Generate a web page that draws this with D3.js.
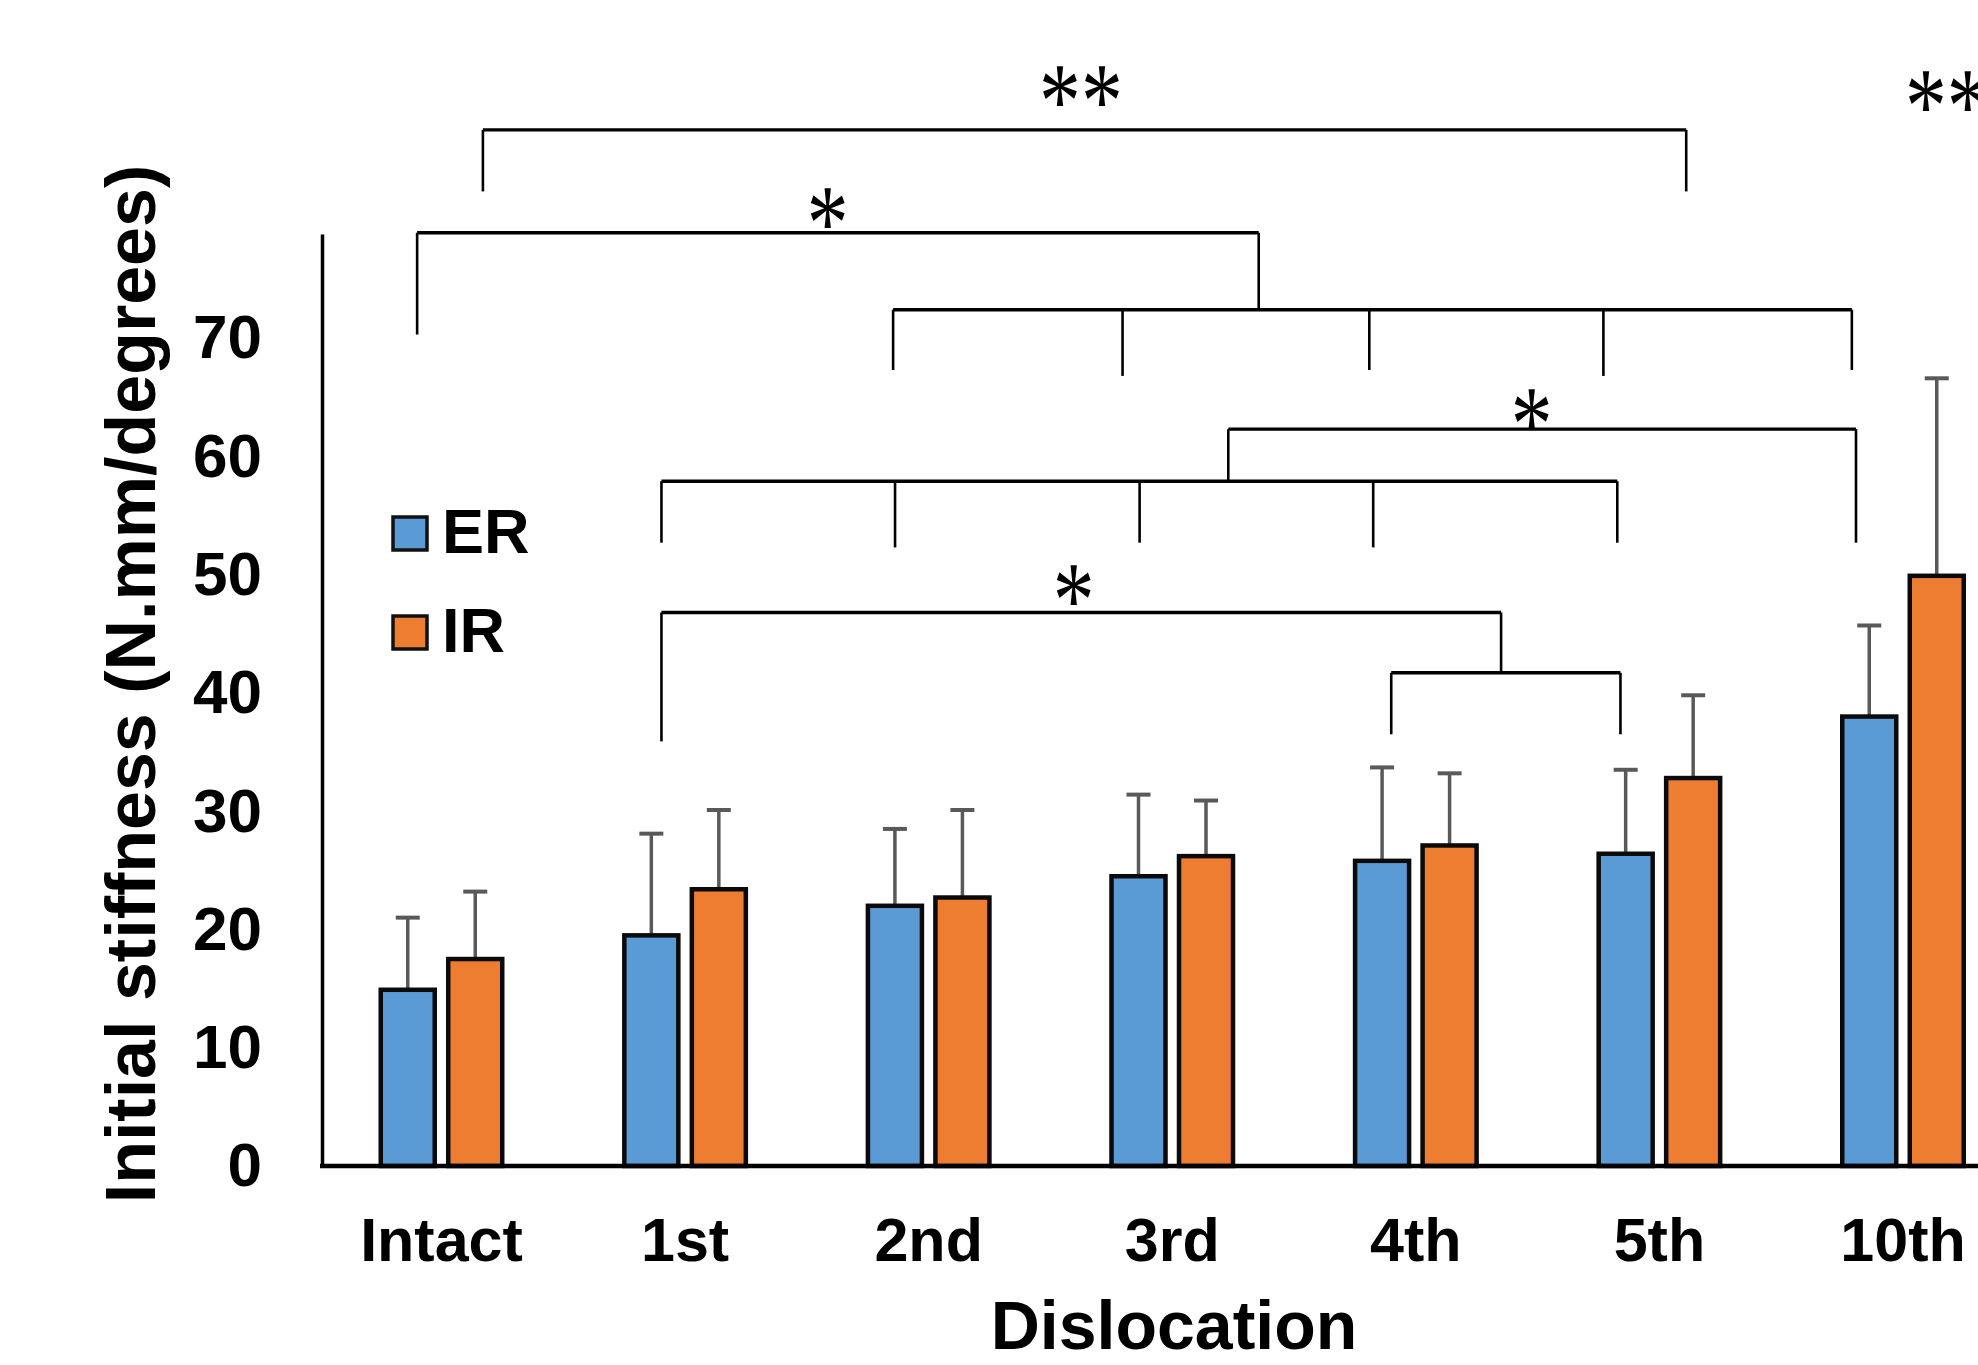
<!DOCTYPE html>
<html>
<head>
<meta charset="utf-8">
<script src="https://cdn.jsdelivr.net/npm/d3@7"></script>
<style>
  body { margin: 0; background: #fff; }
  svg { display: block; }
  .lbl { font-family: "Liberation Sans", Arial, sans-serif; font-weight: bold; fill: #000; }
  .star { font-family: "Liberation Serif", "Times New Roman", serif; fill: #000; }
</style>
</head>
<body>
<svg id="chart" width="1978" height="1365"></svg>
<script>
// --- data ---
const categories = ["Intact", "1st", "2nd", "3rd", "4th", "5th", "10th"];
const series = ["ER", "IR"];
const erMean = [14.9, 19.5, 22.0, 24.5, 25.8, 26.4, 38.0];
const erSD   = [6.1, 8.6, 6.5, 6.9, 7.9, 7.1, 7.7];
const irMean = [17.5, 23.4, 22.7, 26.2, 27.1, 32.8, 49.9];
const irSD   = [5.7, 6.7, 7.4, 4.7, 6.1, 7.0, 16.7];
const yTicks = [0, 10, 20, 30, 40, 50, 60, 70];
const colors = {ER: "#5b9bd5", IR: "#ed7d31"};

// significance brackets: level in y units, legs as [category, offset in band steps, leg end]
// star: [label, category, offset, y]
const brackets = [
  {level: 87.6, star: ["**", "3rd", -0.375, 91.4], legs: [["Intact", 0.17, 82.4], ["5th", 0.11, 82.4]]},
  {level: 78.9, star: ["*", "1st", 0.585, 81.1], legs: [["Intact", -0.10, 70.3], ["3rd", 0.355, 72.4]]},
  {level: 72.4, legs: [["2nd", -0.146, 67.3], ["3rd", -0.204, 66.8], ["4th", -0.191, 67.3], ["5th", -0.23, 66.8], ["10th", -0.21, 67.3]]},
  {level: 62.3, star: ["*", "5th", -0.525, 64.1], legs: [["3rd", 0.23, 57.9], ["10th", -0.193, 52.7]]},
  {level: 57.9, legs: [["1st", -0.097, 52.7], ["2nd", -0.138, 52.3], ["3rd", -0.134, 52.7], ["4th", -0.175, 52.3], ["5th", -0.173, 52.7]]},
  {level: 46.8, star: ["*", "3rd", -0.405, 49.2], legs: [["1st", -0.097, 35.9], ["4th", 0.35, 41.7]]},
  {level: 41.7, legs: [["4th", -0.101, 36.5], ["5th", -0.16, 36.5]]}
];
// lone "**" cut off at the right edge of the figure
const extraStar = ["**", "10th", 0.18, 91.0];

const rows = categories.map((c, i) => ({
  cat: c,
  vals: [
    {key: "ER", mean: erMean[i], sd: erSD[i]},
    {key: "IR", mean: irMean[i], sd: irSD[i]}
  ]
}));

const svg = d3.select("#chart");
const W = 1978, H = 1365;

// --- scales ---
const x = d3.scaleBand().domain(categories).range([319.7, 2024.8]).padding(0);
const x1 = d3.scaleBand().domain(series).range([-60.75, 60.75]).paddingInner(0.2);
const y = d3.scaleLinear().domain([0, 78.8]).range([1166, 234]);

const cx = (cat, off) => x(cat) + x.step() * (0.5 + (off || 0));

// --- bars ---
const groups = svg.append("g").selectAll("g")
  .data(rows).enter().append("g")
  .attr("transform", d => "translate(" + cx(d.cat) + ",0)");

// error bars (upper half only)
groups.selectAll("g.err").data(d => d.vals).enter().append("g")
  .attr("class", "err")
  .each(function(d) {
    const g = d3.select(this);
    const mx = x1(d.key) + x1.bandwidth() / 2;
    g.append("line")
      .attr("x1", mx).attr("x2", mx)
      .attr("y1", y(d.mean)).attr("y2", y(d.mean + d.sd))
      .attr("stroke", "#595959").attr("stroke-width", 3.5);
    g.append("line")
      .attr("x1", mx - 12).attr("x2", mx + 12)
      .attr("y1", y(d.mean + d.sd)).attr("y2", y(d.mean + d.sd))
      .attr("stroke", "#595959").attr("stroke-width", 4);
  });

groups.selectAll("rect").data(d => d.vals).enter().append("rect")
  .attr("x", d => x1(d.key))
  .attr("width", x1.bandwidth())
  .attr("y", d => y(d.mean))
  .attr("height", d => y(0) - y(d.mean))
  .attr("fill", d => colors[d.key])
  .attr("stroke", "#0a0a0a")
  .attr("stroke-width", 4.5);

// --- axes ---
const yAxis = svg.append("g")
  .attr("transform", "translate(322,0)")
  .call(d3.axisLeft(y).tickValues(yTicks).tickSize(0).tickPadding(60));
yAxis.select(".domain").attr("stroke", "#000").attr("stroke-width", 3.5);
yAxis.selectAll("text").attr("class", "lbl").style("font-size", "62px")
  .attr("font-family", null).attr("fill", "#000");

svg.append("line")
  .attr("x1", 320).attr("x2", W)
  .attr("y1", y(0)).attr("y2", y(0))
  .attr("stroke", "#000").attr("stroke-width", 4.5);

const xAxis = svg.append("g")
  .attr("transform", "translate(0," + y(0) + ")")
  .call(d3.axisBottom(x).tickSize(0).tickPadding(52));
xAxis.select(".domain").remove();
xAxis.selectAll("text").attr("class", "lbl").style("font-size", "61px")
  .attr("font-family", null).attr("fill", "#000");

// axis titles
svg.append("text").attr("class", "lbl")
  .attr("transform", "rotate(-90)")
  .attr("x", -684).attr("y", 155)
  .attr("text-anchor", "middle")
  .style("font-size", "70px")
  .text("Initial stiffness (N.mm/degrees)");

svg.append("text").attr("class", "lbl")
  .attr("x", 1174).attr("y", 1349)
  .attr("text-anchor", "middle")
  .style("font-size", "68px")
  .text("Dislocation");

// --- legend ---
const legend = svg.append("g").attr("transform", "translate(393,517)");
series.forEach((s, i) => {
  const g = legend.append("g").attr("transform", "translate(0," + i * 99 + ")");
  g.append("rect").attr("width", 34).attr("height", 33)
    .attr("fill", colors[s]).attr("stroke", "#111").attr("stroke-width", 3.5);
  g.append("text").attr("class", "lbl")
    .attr("x", 49).attr("y", 36)
    .style("font-size", "63px")
    .text(s);
});

// --- significance brackets ---
const bg = svg.append("g")
  .attr("stroke", "#000").attr("fill", "none").attr("stroke-width", 2.6);

function drawStar(s) {
  svg.append("text").attr("class", "star")
    .attr("transform", "translate(" + cx(s[1], s[2]) + "," + (y(s[3]) + 52) + ") scale(0.95,1.22)")
    .attr("text-anchor", "middle")
    .style("font-size", "88px")
    .text(s[0]);
}

brackets.forEach(b => {
  const xs = b.legs.map(l => cx(l[0], l[1]));
  const x0 = d3.min(xs), xN = d3.max(xs);
  bg.append("line")
    .attr("x1", x0).attr("x2", xN)
    .attr("y1", y(b.level)).attr("y2", y(b.level))
    .attr("stroke-width", 3.4);
  b.legs.forEach((l, i) => {
    bg.append("line")
      .attr("x1", xs[i]).attr("x2", xs[i])
      .attr("y1", y(b.level)).attr("y2", y(l[2]));
  });
  if (b.star) drawStar(b.star);
});

drawStar(extraStar);
</script>
</body>
</html>
